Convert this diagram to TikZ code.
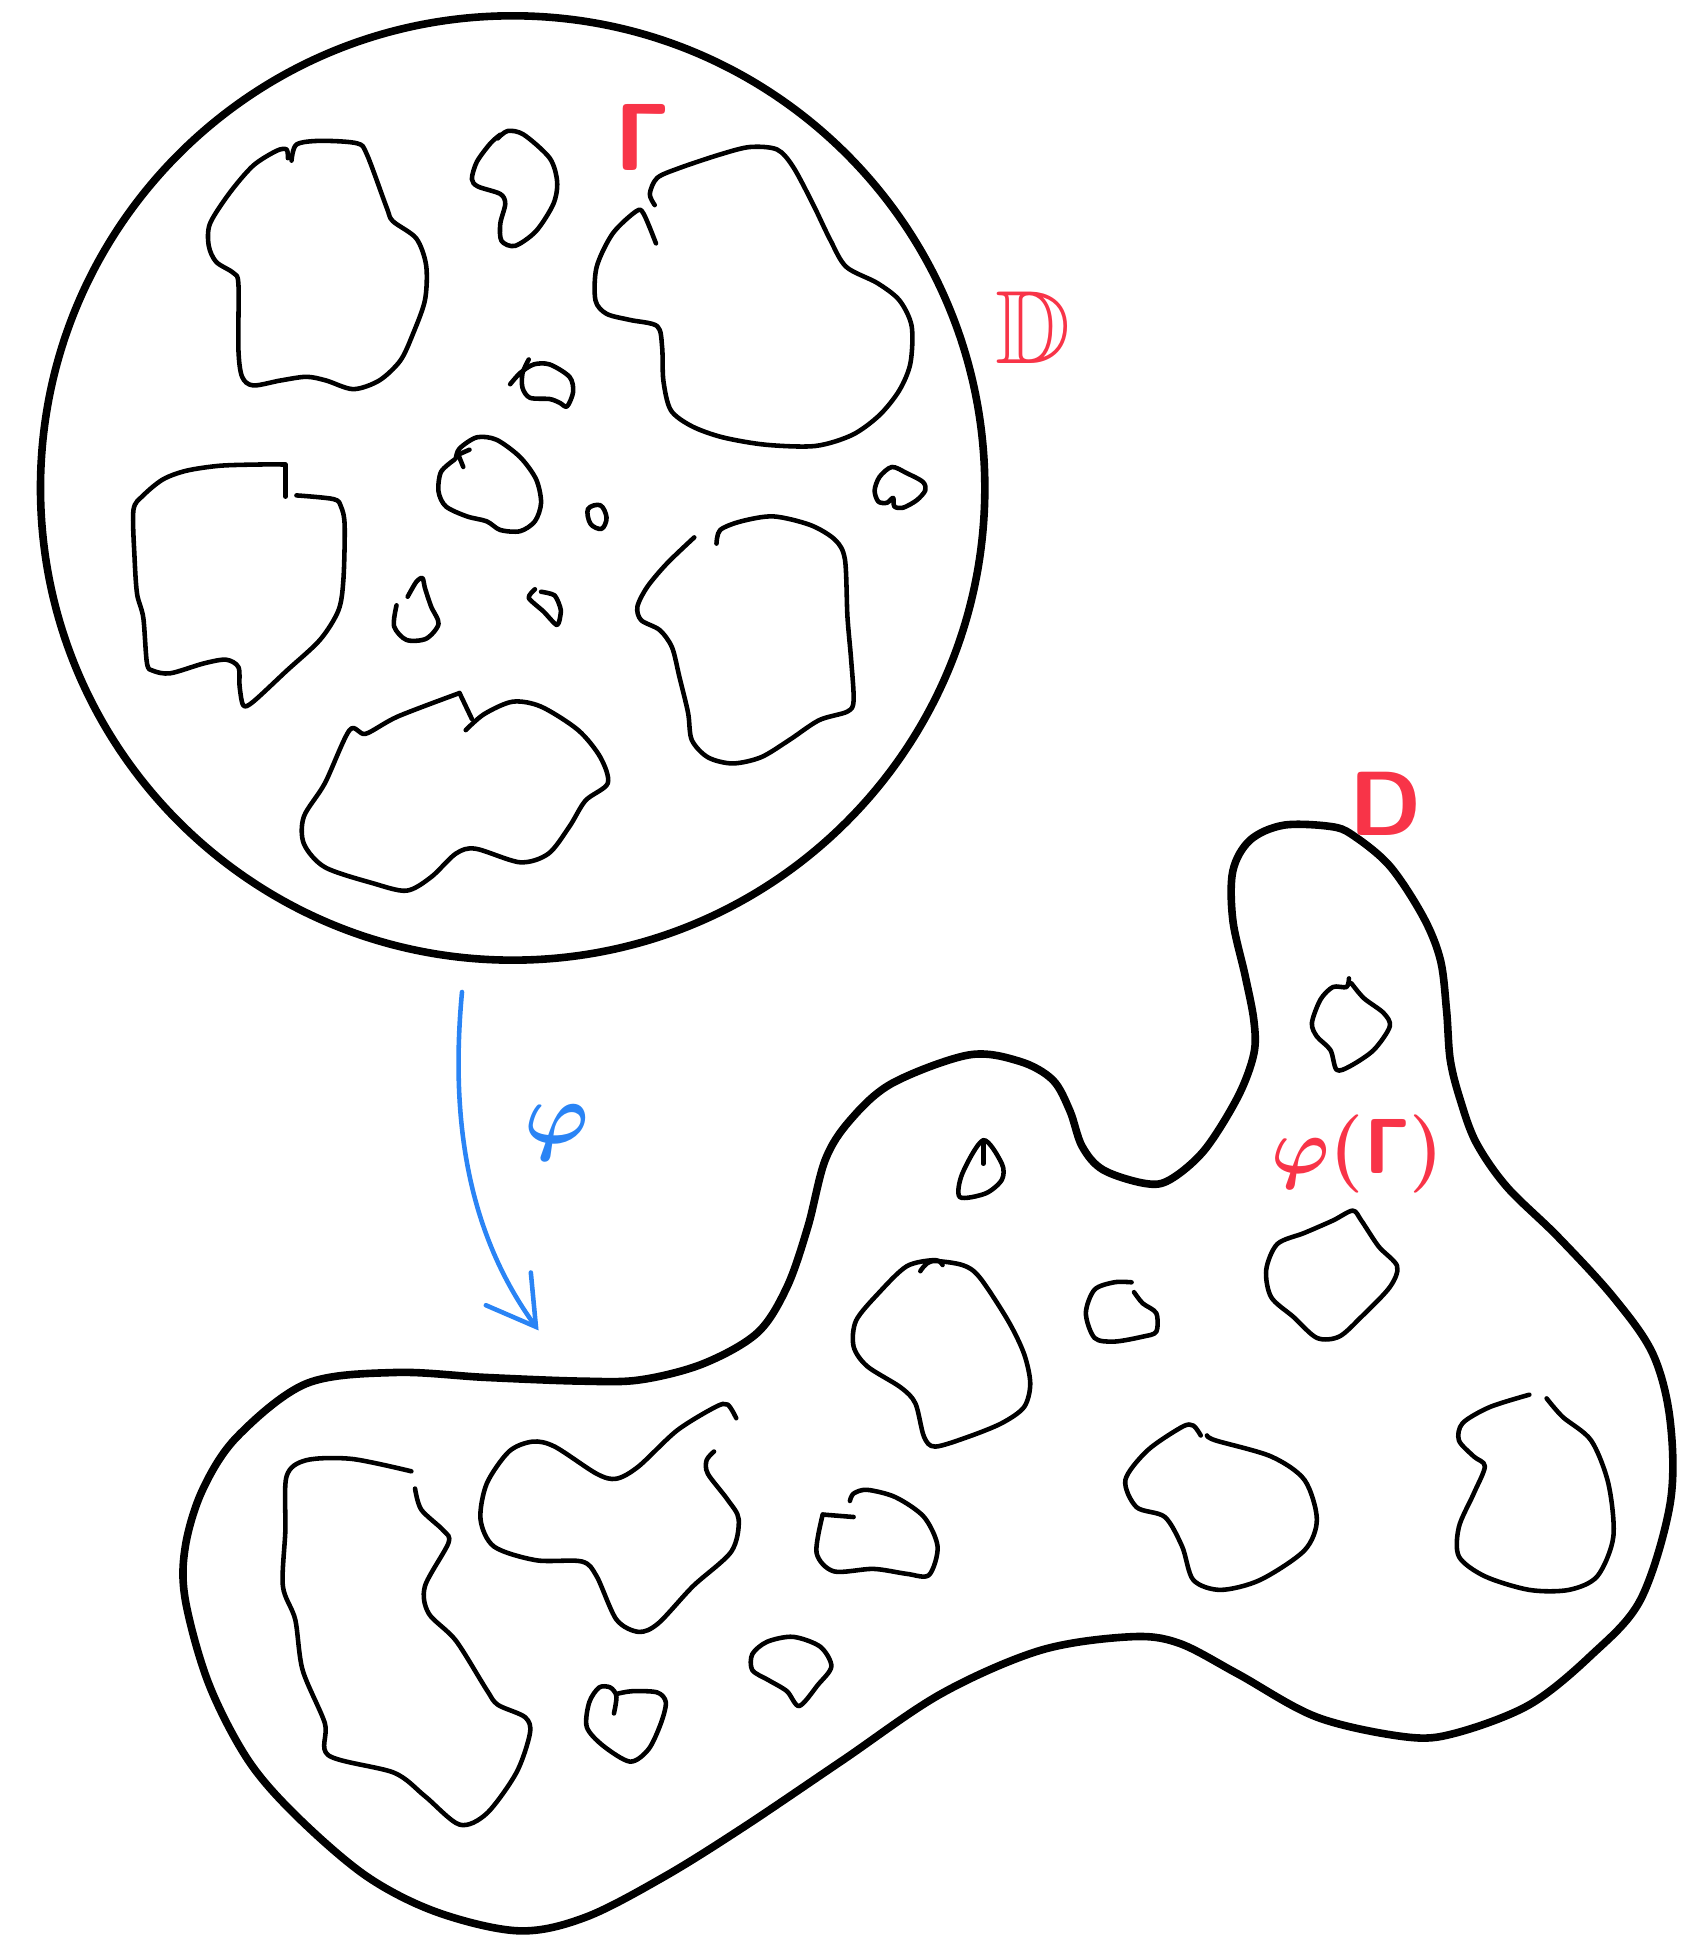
\RequirePackage{fix-cm}
\documentclass[tikz,border=0pt]{standalone}
\usepackage{amssymb}
\usetikzlibrary{arrows.meta}
\definecolor{inkred}{RGB}{248,52,72}
\definecolor{inkblue}{RGB}{42,132,245}
\begin{document}
\begin{tikzpicture}[x=0.01cm,y=-0.01cm,
  outline/.style={line width=1.75pt, line cap=round, line join=round},
  hole/.style={line width=1.05pt, line cap=round, line join=round},
  lab/.style={text=inkred, inner sep=0pt},
  arrowline/.style={draw=inkblue, line width=1.05pt, line cap=round,
    -{Straight Barb[length=3.8mm,width=4.5mm,line cap=round]}}]
\useasboundingbox (0,0) rectangle (1377,1568);

% ---------- the disk D ----------
\draw[outline] (415,395) circle[radius=3.82cm];

% holes in the disk
\draw[hole] plot[smooth,tension=0.5] coordinates {(236,130) (240,117) (259,114) (289,116) (297,125) (313,168) (318,179) (337,193) (345,215) (344,243) (334,271) (324,292) (307,308) (286,315) (264,308) (248,305) (227,308) (205,312) (196,305) (193,283) (193,230) (189,221) (175,212) (169,199) (170,181) (186,156) (205,134) (224,122) (232,121) (233,128)};
\draw[hole] plot[smooth,tension=0.5] coordinates {(403,112) (411,106) (424,109) (445,128) (451,147) (448,165) (434,187) (417,199) (406,195) (405,181) (409,165) (405,157) (387,151) (382,145) (386,131) (397,116) (405,109)};
\draw[hole] plot[smooth,tension=0.5] coordinates {(530,166) (526,157) (532,144) (550,136) (583,125) (607,119) (629,121) (642,135) (658,165) (672,194) (685,216) (710,229) (728,243) (738,264) (737,294) (728,316) (712,336) (690,352) (660,361) (620,360) (585,354) (560,345) (543,332) (537,308) (536,281) (532,264) (510,259) (491,254) (482,243) (483,216) (496,189) (515,171) (521,173) (531,197)};
\draw[hole] plot[smooth,tension=0.5] coordinates {(413,311) (421,302) (432,295) (445,295) (461,305) (464,317) (459,329) (453,326) (445,323) (429,322) (423,314) (423,302) (428,291)};
\draw[hole] (231,402) -- (231,376);
\draw[hole] plot[smooth,tension=0.5] coordinates {(231,376) (210,376) (178,377) (151,381) (132,388) (116,401) (108,413) (109,453) (111,481) (116,500) (119,537) (124,543) (138,545) (165,537) (183,534) (193,540) (194,556) (197,571) (205,568) (232,543) (259,518) (274,494) (278,469) (279,425) (276,410) (270,404) (240,401)};
\draw[hole] plot[smooth,tension=0.5] coordinates {(368,372) (357,382) (355,398) (361,410) (378,418) (394,422) (405,429) (421,430) (433,422) (438,407) (434,388) (421,370) (402,356) (386,354) (372,363) (369,371)};
\draw[hole] (375,378) -- (371,368) -- (380,364);
\draw[hole] plot[smooth cycle,tension=0.6] coordinates {(476,412) (486,409) (491,419) (487,428) (478,424)};
\draw[hole] plot[smooth cycle,tension=0.5] coordinates {(722,378) (734,383) (747,390) (749,397) (742,405) (731,411) (724,410) (723,403) (718,407) (711,406) (708,397) (712,386)};
\draw[hole] plot[smooth,tension=0.5] coordinates {(321,490) (319,507) (329,518) (345,517) (355,505) (349,491) (344,476) (342,468) (337,471) (330,483)};
\draw[hole] plot[smooth,tension=0.4] coordinates {(433,477) (428,484) (440,495) (451,506) (454,494) (449,482) (438,479)};
\draw[hole] plot[smooth,tension=0.5] coordinates {(562,435) (540,456) (524,475) (516,491) (519,502) (534,510) (544,524) (550,548) (557,577) (560,599) (573,613) (593,618) (616,613) (639,599) (663,583) (686,576) (691,567) (689,534) (686,499) (684,453) (676,437) (656,425) (626,418) (600,422) (583,429) (580,440)};
\draw[hole] (382,582) -- (372,561);
\draw[hole] plot[smooth,tension=0.5] coordinates {(372,561) (322,580) (296,594) (283,591) (263,634) (246,661) (246,683) (263,702) (302,715) (329,721) (349,710) (369,691) (385,687) (421,698) (444,691) (461,669) (474,648) (492,634) (486,613) (468,591) (438,572) (415,568) (392,578) (377,591)};

% ---------- the domain D ----------
\draw[outline] plot[smooth cycle,tension=0.55] coordinates {(1012,680) (1039,668) (1077,669) (1095,676) (1125,701) (1152,742) (1166,777) (1171,818) (1174,858) (1182,890) (1195,925) (1220,961) (1261,1001) (1306,1050) (1338,1096) (1352,1150) (1352,1217) (1328,1295) (1288,1340) (1238,1380) (1178,1403) (1138,1406) (1066,1390) (1002,1355) (954,1330) (914,1325) (842,1336) (762,1371) (682,1425) (602,1479) (538,1519) (474,1552) (420,1563) (354,1548) (297,1519) (241,1471) (201,1425) (169,1363) (150,1295) (150,1252) (164,1206) (192,1163) (248,1120) (320,1111) (393,1115) (470,1118) (518,1117) (569,1104) (613,1079) (637,1042) (654,993) (668,939) (688,907) (722,877) (784,854) (825,859) (852,874) (866,899) (876,928) (893,947) (927,958) (947,955) (975,931) (1002,888) (1015,853) (1015,826) (1008,790) (998,745) (998,705)};

% holes in the domain
\draw[hole] plot[smooth,tension=0.5] coordinates {(1092,792) (1090,799) (1079,799) (1069,809) (1062,828) (1066,839) (1077,850) (1082,866) (1093,863) (1112,850) (1125,831) (1120,820) (1104,808) (1094,796)};
\draw[hole] plot[smooth cycle,tension=0.5] coordinates {(796,923) (811,942) (811,955) (798,966) (777,969) (779,950)};
\draw[hole] (796,942) -- (796,923);
\draw[hole] plot[smooth cycle,tension=0.5] coordinates {(1095,980) (1102,988) (1116,1009) (1131,1025) (1125,1042) (1102,1066) (1084,1082) (1066,1083) (1047,1066) (1029,1050) (1025,1028) (1034,1007) (1056,998) (1079,988)};
\draw[hole] plot[smooth,tension=0.5] coordinates {(745,1029) (754,1021) (779,1024) (793,1034) (816,1069) (829,1096) (834,1120) (829,1139) (811,1152) (784,1163) (757,1171) (748,1163) (741,1136) (729,1123) (702,1106) (691,1090) (693,1069) (711,1047) (734,1025) (757,1020) (763,1024)};
\draw[hole] plot[smooth,tension=0.5] coordinates {(916,1038) (902,1038) (886,1044) (879,1063) (886,1083) (902,1086) (925,1082) (936,1078) (936,1063) (925,1055) (918,1046)};
\draw[hole] plot[smooth,tension=0.5] coordinates {(972,1162) (966,1154) (957,1155) (929,1174) (911,1198) (920,1220) (943,1228) (957,1252) (966,1279) (988,1287) (1020,1279) (1056,1255) (1066,1230) (1056,1198) (1029,1179) (984,1166) (977,1162)};
\draw[hole] plot[smooth,tension=0.5] coordinates {(1238,1129) (1206,1139) (1184,1152) (1181,1166) (1193,1179) (1202,1187) (1193,1209) (1181,1236) (1181,1260) (1202,1276) (1238,1287) (1270,1287) (1293,1276) (1306,1244) (1302,1201) (1288,1166) (1265,1147) (1252,1132)};
\draw[hole] plot[smooth,tension=0.5] coordinates {(333,1191) (285,1181) (248,1182) (232,1195) (231,1239) (229,1284) (239,1311) (245,1352) (263,1395) (266,1421) (319,1435) (344,1454) (372,1477) (394,1468) (418,1435) (429,1403) (425,1390) (403,1380) (394,1368) (369,1328) (347,1306) (344,1284) (363,1249) (359,1239) (341,1222) (336,1205)};
\draw[hole] plot[smooth,tension=0.5] coordinates {(596,1148) (589,1137) (579,1139) (548,1158) (517,1187) (499,1197) (483,1193) (449,1171) (431,1167) (412,1175) (394,1201) (389,1230) (400,1252) (434,1263) (471,1264) (483,1276) (499,1311) (517,1321) (533,1314) (561,1284) (592,1256) (598,1230) (589,1214) (573,1193) (572,1182) (578,1175)};
\draw[hole] (666,1226) -- (691,1228);
\draw[hole] plot[smooth,tension=0.5] coordinates {(666,1226) (661,1257) (675,1272) (707,1270) (734,1274) (752,1275) (759,1252) (748,1228) (725,1212) (702,1206) (691,1209) (688,1215)};
\draw[hole] plot[smooth cycle,tension=0.5] coordinates {(621,1329) (642,1325) (664,1333) (673,1349) (662,1364) (647,1381) (637,1369) (622,1360) (609,1352) (609,1339)};
\draw[hole] plot[smooth,tension=0.5] coordinates {(497,1387) (499,1373) (494,1366) (485,1366) (477,1378) (475,1398) (488,1413) (510,1426) (525,1416) (535,1395) (539,1378) (532,1370) (512,1369) (500,1371)};

% ---------- the map phi ----------
\coordinate (phistart) at (374,803);
\coordinate (phiend) at (436,1077);
\draw[arrowline] (phistart) .. controls (364,910) and (380,1000) .. (phiend);
\node[text=inkblue, inner sep=0pt, font=\fontsize{20}{24}\selectfont\boldmath] (phi) at (451,917) {$\varphi$};

% ---------- labels ----------
\node[lab, font=\fontsize{22}{26}\selectfont\boldmath] (gam) at (520,111) {$\mathsf{\Gamma}$};
\node[lab, font=\fontsize{24}{28}\selectfont] (disk) at (836,265) {$\mathbb{D}$};
\node[lab, font=\fontsize{21}{25}\selectfont\sffamily\bfseries] (dom) at (1122,651) {D};
\node[lab, font=\fontsize{18}{22}\selectfont\boldmath] (img) at (1099,934) {$\varphi(\mathsf{\Gamma})$};
\end{tikzpicture}
\end{document}
